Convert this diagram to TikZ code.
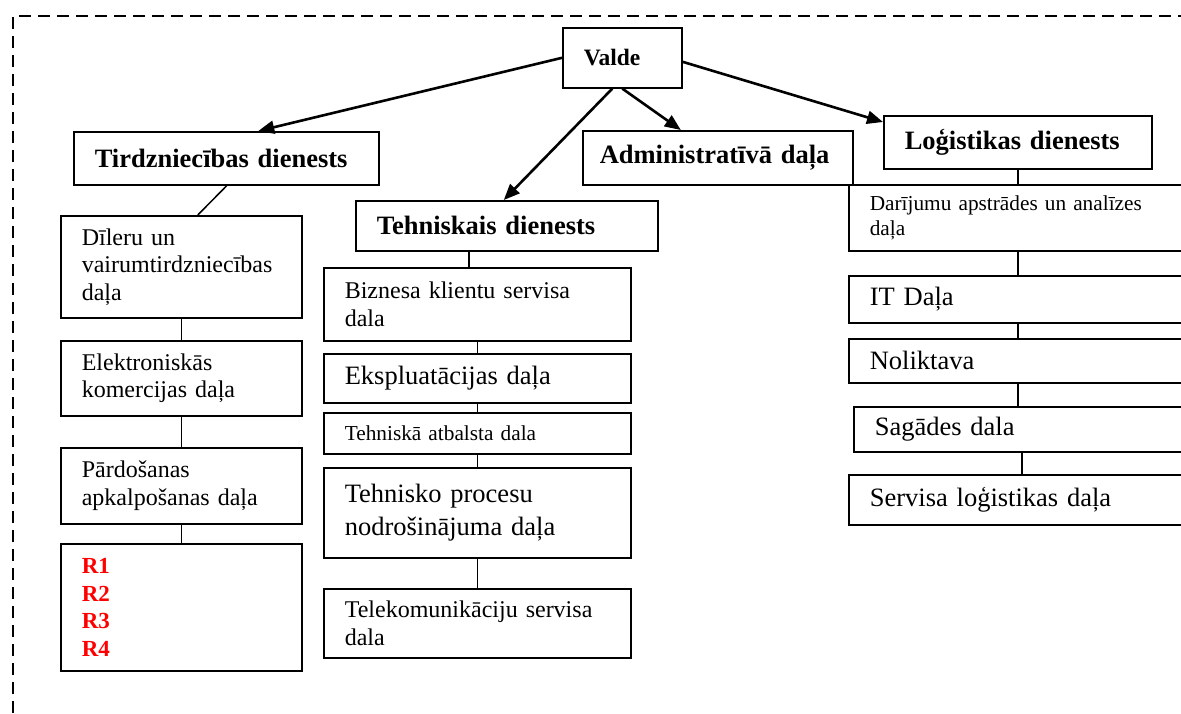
\documentclass[tikz,border=0pt]{standalone}
\usepackage{fontspec}
\setmainfont{Liberation Serif}
\usetikzlibrary{arrows.meta}

\begin{document}
\begin{tikzpicture}[x=1pt,y=-1pt,
        >={Triangle[length=16pt,width=13pt]},
        box/.style={draw,line width=1.6pt,rectangle,anchor=north west,
            inner xsep=21pt,inner ysep=0pt,align=left},
        head/.style={box,font=\bfseries\fontsize{26.5}{32}\selectfont},
        txtbig/.style={font=\fontsize{26.5}{33}\selectfont},
        txtmid/.style={font=\fontsize{24}{27.5}\selectfont},
        txtsmall/.style={font=\fontsize{21.3}{25}\selectfont},
        link/.style={line width=1.5pt},
        boss/.style={line width=2.6pt,->},
        frame/.style={line width=2.5pt,dash pattern=on 12pt off 7pt}]
    \useasboundingbox (0,0) rectangle (1181,713);
    %% Frame
    \draw[frame] (13,713) |- (1181,16);
    %% Top level
    \node[head,font=\bfseries\fontsize{23.5}{28}\selectfont,
        minimum width=119pt,text width=77pt,minimum height=60pt]
        (valde) at (562,27) {Valde};
    \node[head,minimum width=305pt,text width=263pt,minimum height=53pt]
        (tirdz) at (73,131) {Tirdzniecības dienests};
    \node[head,minimum width=302pt,text width=260pt,minimum height=50pt]
        (teh) at (355,200) {Tehniskais dienests};
    \node[head,inner xsep=17pt,minimum width=270pt,text width=236pt,
        minimum height=54pt] (admin) at (582,130) {Administratīvā daļa};
    \node[head,minimum width=268pt,text width=226pt,minimum height=53pt]
        (logist) at (883,115) {Loģistikas dienests};
    %% Sales column
    \node[box,txtmid,minimum width=241pt,text width=199pt,minimum height=102pt]
        (dileru) at (60,215) {Dīleru un\\vairumtirdzniecības\\daļa};
    \node[box,txtmid,minimum width=241pt,text width=199pt,minimum height=75pt]
        (elektr) at (60,340) {Elektroniskās\\komercijas daļa};
    \node[box,txtmid,minimum width=241pt,text width=199pt,minimum height=76pt]
        (pardos) at (60,447) {Pārdošanas\\apkalpošanas daļa};
    \node[box,text=red,font=\bfseries\fontsize{23}{27.8}\selectfont,
        minimum width=241pt,text width=199pt,minimum height=127pt]
        (rbox) at (60,543) {R1\\R2\\R3\\R4};
    %% Technical column
    \node[box,txtmid,minimum width=307pt,text width=265pt,minimum height=73pt]
        (bizn) at (323,267) {Biznesa klientu servisa\\dala};
    \node[box,txtbig,minimum width=307pt,text width=265pt,minimum height=49pt]
        (ekspl) at (323,353) {Ekspluatācijas daļa};
    \node[box,txtsmall,minimum width=307pt,text width=265pt,minimum height=41pt]
        (atbal) at (323,412) {Tehniskā atbalsta dala};
    \node[box,txtbig,minimum width=307pt,text width=265pt,minimum height=90pt]
        (proc) at (323,467) {Tehnisko procesu\\nodrošinājuma daļa};
    \node[box,txtmid,minimum width=307pt,text width=265pt,minimum height=69pt]
        (telek) at (323,588) {Telekomunikāciju servisa\\dala};
    %% Logistics column
    \node[box,txtsmall,minimum width=338pt,text width=296pt,minimum height=66pt]
        (darij) at (848,184) {Darījumu apstrādes un analīzes\\daļa};
    \node[box,txtbig,minimum width=338pt,text width=296pt,minimum height=47pt]
        (itdala) at (848,275) {IT Daļa};
    \node[box,txtbig,minimum width=338pt,text width=296pt,minimum height=44pt]
        (nolikt) at (848,338) {Noliktava};
    \node[box,txtbig,minimum width=333pt,text width=291pt,minimum height=45pt]
        (sagad) at (853,406) {Sagādes dala};
    \node[box,txtbig,minimum width=338pt,text width=296pt,minimum height=50pt]
        (servlog) at (848,474) {Servisa loģistikas daļa};
    %% Arrows
    \draw[boss] (valde.west) -- ([xshift=32pt]tirdz.north);
    \draw[boss] ([xshift=-10pt]valde.south) -- ([xshift=-3pt]teh.north);
    \draw[boss] (valde.south) -- ([xshift=-37pt]admin.north);
    \draw[boss] ([yshift=-4pt]valde.east) -- ([yshift=-7pt]logist.north west);
    %% Links
    \draw[link] ([xshift=0.5pt]tirdz.south) -- ([xshift=16.5pt]dileru.north);
    \draw[link] (dileru.south) -- (elektr.north);
    \draw[link] (elektr.south) -- (pardos.north);
    \draw[link] (pardos.south) -- (rbox.north);
    \coordinate (tspine) at ([xshift=-8.5pt]bizn.north);
    \draw[link] (tspine) -- (tspine |- teh.south);
    \draw[link] (bizn.south) -- (ekspl.north);
    \draw[link] (ekspl.south) -- (atbal.north);
    \draw[link] (atbal.south) -- (proc.north);
    \draw[link] (proc.south) -- (telek.north);
    \coordinate (lspine) at ([xshift=4pt]logist.south);
    \draw[link] (logist.south) -- (logist.south |- darij.north);
    \draw[link] (logist.south |- darij.south) -- (logist.south |- itdala.north);
    \draw[link] (logist.south |- itdala.south) -- (logist.south |- nolikt.north);
    \draw[link] (logist.south |- nolikt.south) -- (logist.south |- sagad.north);
    \draw[link] (lspine |- sagad.south) -- (lspine |- servlog.north);
\end{tikzpicture}
\end{document}
